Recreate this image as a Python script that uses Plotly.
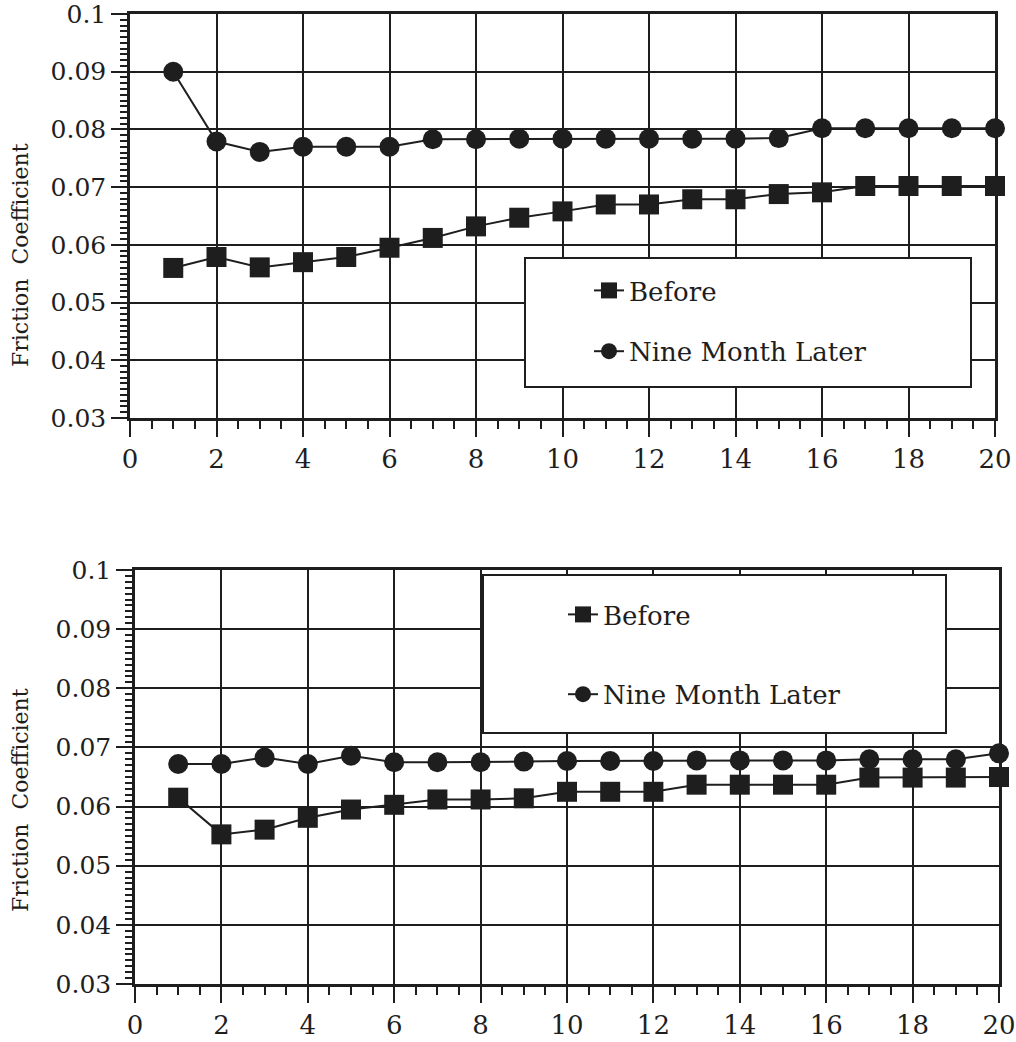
import plotly.graph_objects as go

# ---- data ----
cycles = list(range(1, 21))

top_before = [0.0560, 0.0579, 0.0561, 0.0570, 0.0579, 0.0595, 0.0612, 0.0632, 0.0647, 0.0658,
              0.0670, 0.0670, 0.0679, 0.0679, 0.0688, 0.0691, 0.0702, 0.0702, 0.0702, 0.0702]
top_later = [0.0900, 0.0779, 0.0761, 0.0770, 0.0770, 0.0770, 0.0783, 0.0783, 0.0784, 0.0784,
             0.0784, 0.0784, 0.0784, 0.0784, 0.0785, 0.0802, 0.0802, 0.0802, 0.0802, 0.0802]

bot_before = [0.0615, 0.0553, 0.0561, 0.0581, 0.0595, 0.0603, 0.0612, 0.0612, 0.0614, 0.0625,
              0.0625, 0.0625, 0.0637, 0.0637, 0.0637, 0.0637, 0.0649, 0.0649, 0.0649, 0.0650]
bot_later = [0.0672, 0.0672, 0.0683, 0.0672, 0.0686, 0.0675, 0.0675, 0.0675, 0.0676, 0.0677,
             0.0677, 0.0677, 0.0678, 0.0678, 0.0678, 0.0678, 0.0680, 0.0680, 0.0680, 0.0690]

series_names = ["Before", "Nine Month Later"]
y_title = "Friction  Coefficient"
x_ticks = list(range(0, 21, 2))
y_ticks = [0.03, 0.04, 0.05, 0.06, 0.07, 0.08, 0.09, 0.1]
y_ticktext = ["0.03", "0.04", "0.05", "0.06", "0.07", "0.08", "0.09", "0.1"]

# ---- styling ----
W, H = 1016, 1042
INK = "#1e1e1e"
SERIF = "DejaVu Serif"

fig = go.Figure()

def add_pair(before, later, xa, ya, legend):
    fig.add_trace(go.Scatter(
        x=cycles, y=before, name=series_names[0], mode="lines+markers",
        xaxis=xa, yaxis=ya, legend=legend, legendgroup=legend + "a",
        line=dict(color=INK, width=2),
        marker=dict(symbol="square", size=20, color=INK),
        cliponaxis=False,
    ))
    fig.add_trace(go.Scatter(
        x=cycles, y=later, name=series_names[1], mode="lines+markers",
        xaxis=xa, yaxis=ya, legend=legend, legendgroup=legend + "b",
        line=dict(color=INK, width=2),
        marker=dict(symbol="circle", size=20, color=INK),
        cliponaxis=False,
    ))

add_pair(top_before, top_later, "x", "y", "legend")
add_pair(bot_before, bot_later, "x2", "y2", "legend2")

def px_x(p):
    return p / W

def px_y(p):
    return 1 - p / H

xaxis_common = dict(
    range=[0, 20], tickmode="array", tickvals=x_ticks, automargin=False,
    ticklabeloverflow="allow",
    showgrid=True, gridcolor=INK, gridwidth=2,
    showline=True, linecolor=INK, linewidth=2.5, mirror=True,
    ticks="outside", ticklen=16, tickwidth=2, tickcolor=INK,
    tickfont=dict(family=SERIF, size=26, color=INK),
    minor=dict(dtick=0.5, ticks="outside", ticklen=8, tickwidth=2, tickcolor=INK, showgrid=False),
    zeroline=False, fixedrange=True,
)
yaxis_common = dict(
    range=[0.03, 0.1], tickmode="array", tickvals=y_ticks, ticktext=y_ticktext, automargin=False,
    ticklabeloverflow="allow",
    showgrid=True, gridcolor=INK, gridwidth=2,
    showline=True, linecolor=INK, linewidth=2.5, mirror=True,
    ticks="outside", ticklen=16, tickwidth=2, tickcolor=INK,
    tickfont=dict(family=SERIF, size=25, color=INK),
    minor=dict(dtick=0.001, ticks="outside", ticklen=7, tickwidth=2, tickcolor=INK, showgrid=False),
    zeroline=False, fixedrange=True,
)

fig.update_layout(
    width=W, height=H,
    margin=dict(l=0, r=0, t=0, b=0, autoexpand=False),
    paper_bgcolor="white", plot_bgcolor="white",
    font=dict(family=SERIF, color=INK),
    xaxis=dict(xaxis_common, domain=[px_x(130), px_x(995)], anchor="y"),
    yaxis=dict(yaxis_common, domain=[px_y(418), px_y(14)], anchor="x"),
    xaxis2=dict(xaxis_common, domain=[px_x(135), px_x(999)], anchor="y2"),
    yaxis2=dict(yaxis_common, domain=[px_y(984), px_y(570)], anchor="x2"),
    legend=dict(
        x=px_x(589), y=px_y(267), xanchor="left", yanchor="top",
        bgcolor="rgba(0,0,0,0)", borderwidth=0, tracegroupgap=24,
        font=dict(family=SERIF, size=26, color=INK),
    ),
    legend2=dict(
        x=px_x(563), y=px_y(591), xanchor="left", yanchor="top",
        bgcolor="rgba(0,0,0,0)", borderwidth=0, tracegroupgap=43,
        font=dict(family=SERIF, size=26, color=INK),
    ),
    shapes=[
        dict(type="rect", xref="paper", yref="paper", layer="above",
             x0=px_x(525), x1=px_x(971), y0=px_y(387), y1=px_y(258),
             line=dict(color=INK, width=2), fillcolor="white"),
        dict(type="rect", xref="paper", yref="paper", layer="above",
             x0=px_x(483), x1=px_x(946), y0=px_y(733), y1=px_y(575),
             line=dict(color=INK, width=2), fillcolor="white"),
    ],
    annotations=[
        dict(text=y_title, xref="paper", yref="paper", x=px_x(20), y=px_y(255),
             textangle=-90, showarrow=False, xanchor="center", yanchor="middle",
             font=dict(family=SERIF, size=22, color=INK)),
        dict(text=y_title, xref="paper", yref="paper", x=px_x(20), y=px_y(800),
             textangle=-90, showarrow=False, xanchor="center", yanchor="middle",
             font=dict(family=SERIF, size=22, color=INK)),
    ],
    showlegend=True,
)

fig.write_html("out.html", config={"displayModeBar": False},
               post_script="document.body.style.margin='0';")
